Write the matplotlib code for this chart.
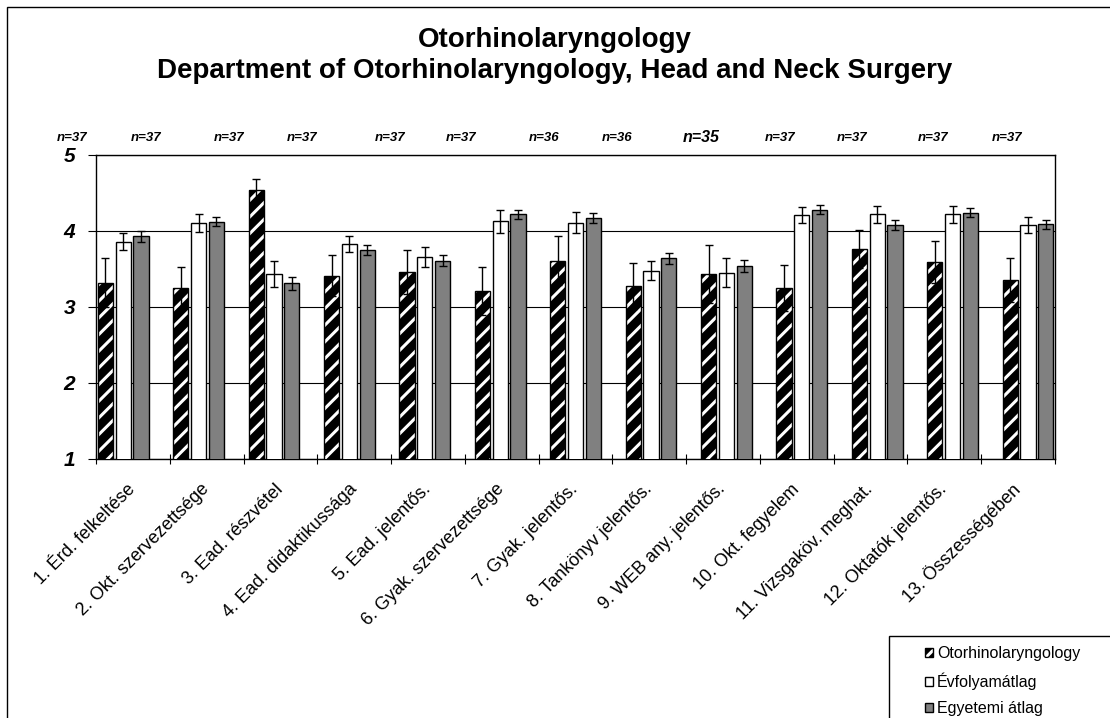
import matplotlib
matplotlib.use('Agg')
import matplotlib.pyplot as plt
import numpy as np
from matplotlib.patches import Rectangle, Patch

plt.rcParams['font.family'] = ['Liberation Sans', 'DejaVu Sans']
plt.rcParams['hatch.linewidth'] = 2.2

# ---------------- data ----------------
categories = ['1. Érd. felkeltése', '2. Okt. szervezettsége', '3. Ead. részvétel',
              '4. Ead. didaktikussága', '5. Ead. jelentős.', '6. Gyak. szervezettsége',
              '7. Gyak. jelentős.', '8. Tankönyv jelentős.', '9. WEB any. jelentős.',
              '10. Okt. fegyelem', '11. Vizsgaköv. meghat.', '12. Oktatók jelentős.',
              '13. Összességében']
n_labels = ['n=37', 'n=37', 'n=37', 'n=37', 'n=37', 'n=37', 'n=36',
            'n=36', 'n=35', 'n=37', 'n=37', 'n=37', 'n=37']
series_names = ['Otorhinolaryngology', 'Évfolyamátlag', 'Egyetemi átlag']
dept = [3.32, 3.25, 4.54, 3.41, 3.46, 3.21, 3.61, 3.28, 3.43, 3.25, 3.76, 3.59, 3.35]
dept_err = [0.32, 0.28, 0.15, 0.27, 0.29, 0.32, 0.32, 0.30, 0.38, 0.30, 0.25, 0.28, 0.29]
year_avg = [3.86, 4.11, 3.43, 3.83, 3.66, 4.13, 4.11, 3.48, 3.45, 4.21, 4.22, 4.22, 4.08]
year_err = [0.11, 0.12, 0.17, 0.11, 0.13, 0.15, 0.14, 0.13, 0.19, 0.11, 0.11, 0.11, 0.11]
univ_avg = [3.93, 4.12, 3.31, 3.75, 3.61, 4.22, 4.17, 3.64, 3.54, 4.28, 4.08, 4.24, 4.09]
univ_err = [0.07, 0.06, 0.09, 0.07, 0.07, 0.06, 0.07, 0.07, 0.08, 0.06, 0.07, 0.06, 0.06]
yticks = [1, 2, 3, 4, 5]

# layout (not data): horizontal offsets of the n= labels relative to each group
n_offsets = [-0.675, -0.702, -0.593, -0.633, -0.462, -0.520, -0.419,
             -0.455, -0.341, -0.289, -0.330, -0.256, -0.282]

W, H = 1110, 718
fig = plt.figure(figsize=(W / 100, H / 100), dpi=100)

# outer chart border (cropped)
fig.patches.append(Rectangle((7 / W, -0.2), 1.5, 1.2 - 7 / H, transform=fig.transFigure,
                             fill=False, edgecolor='black', lw=1.0))

ax = fig.add_axes([96 / W, 1 - 459 / H, 959 / W, 304 / H])
ax.set_xlim(0, len(categories))
ax.set_ylim(1, 5)
ax.set_yticks(yticks)
ax.set_yticklabels([str(v) for v in yticks], fontsize=15, fontweight='bold', fontstyle='italic')
ax.tick_params(axis='y', direction='out', length=5.8, width=0.8, pad=9)
ax.yaxis.grid(True, color='black', lw=0.8)
ax.set_axisbelow(True)
ax.set_xticks(np.arange(len(categories) + 1))
ax.set_xticklabels([])
ax.tick_params(axis='x', which='major', direction='inout', length=7, width=0.8)
ax.set_xticks(np.arange(len(categories)) + 0.5, minor=True)
ax.set_xticklabels(categories, minor=True, rotation=45, ha='right', va='center',
                   rotation_mode='anchor', fontsize=13)
ax.tick_params(axis='x', which='minor', length=0, pad=20)
for s in ax.spines.values():
    s.set_linewidth(1.0)

# bars on a twin x-axis (bar clusters spaced slightly wider than the category ticks)
ax2 = ax.twiny()
ax2.set_xlim(-0.361, 12.358)
ax2.axis('off')
x = np.arange(len(categories))
d = 0.236
w = 0.2
ax2.bar(x - d, dept, w, color='black', edgecolor='white', hatch='//', lw=0)
ax2.bar(x - d, dept, w, fill=False, edgecolor='black', lw=1.0)
ax2.bar(x, year_avg, w, color='white', edgecolor='black', lw=1.0)
ax2.bar(x + d, univ_avg, w, color='#808080', edgecolor='black', lw=1.0)
for xx, vals, errs in [(x - d, dept, dept_err), (x, year_avg, year_err), (x + d, univ_avg, univ_err)]:
    ax2.errorbar(xx, vals, yerr=errs, fmt='none', ecolor='black', elinewidth=1.0,
                 capsize=2.8, capthick=1.0)

trans = ax2.get_xaxis_transform()
for i, (lab, off) in enumerate(zip(n_labels, n_offsets)):
    big = lab == 'n=35'
    ax2.text(i + off, 1.057, lab, transform=trans, ha='center', va='center',
             fontsize=11.5 if big else 9.5, fontweight='bold', fontstyle='italic', clip_on=False)

# title
fig.text(0.5, 1 - 40 / H, 'Otorhinolaryngology', ha='center', va='center',
         fontsize=20, fontweight='bold')
fig.text(0.5, 1 - 71 / H, 'Department of Otorhinolaryngology, Head and Neck Surgery',
         ha='center', va='center', fontsize=20, fontweight='bold')

# legend
fig.patches.append(Rectangle((889 / W, -0.2), 0.3, 0.2 + 1 - 636 / H, transform=fig.transFigure,
                             fill=True, facecolor='white', edgecolor='black', lw=1.0))
h_dept = (Patch(facecolor='black', edgecolor='white', hatch='//', lw=0),
          Patch(facecolor='none', edgecolor='black', lw=1.0))
h_year = Patch(facecolor='white', edgecolor='black', lw=1.0)
h_univ = Patch(facecolor='#808080', edgecolor='black', lw=1.0)
fig.legend([h_dept, h_year, h_univ], series_names, loc='upper left',
           bbox_to_anchor=(925 / W, 1 - 646 / H), frameon=False, fontsize=11.5,
           handlelength=0.5, handleheight=0.5, handletextpad=0.25, labelspacing=0.72,
           borderpad=0, borderaxespad=0)

fig.savefig('out.png', dpi=100)
